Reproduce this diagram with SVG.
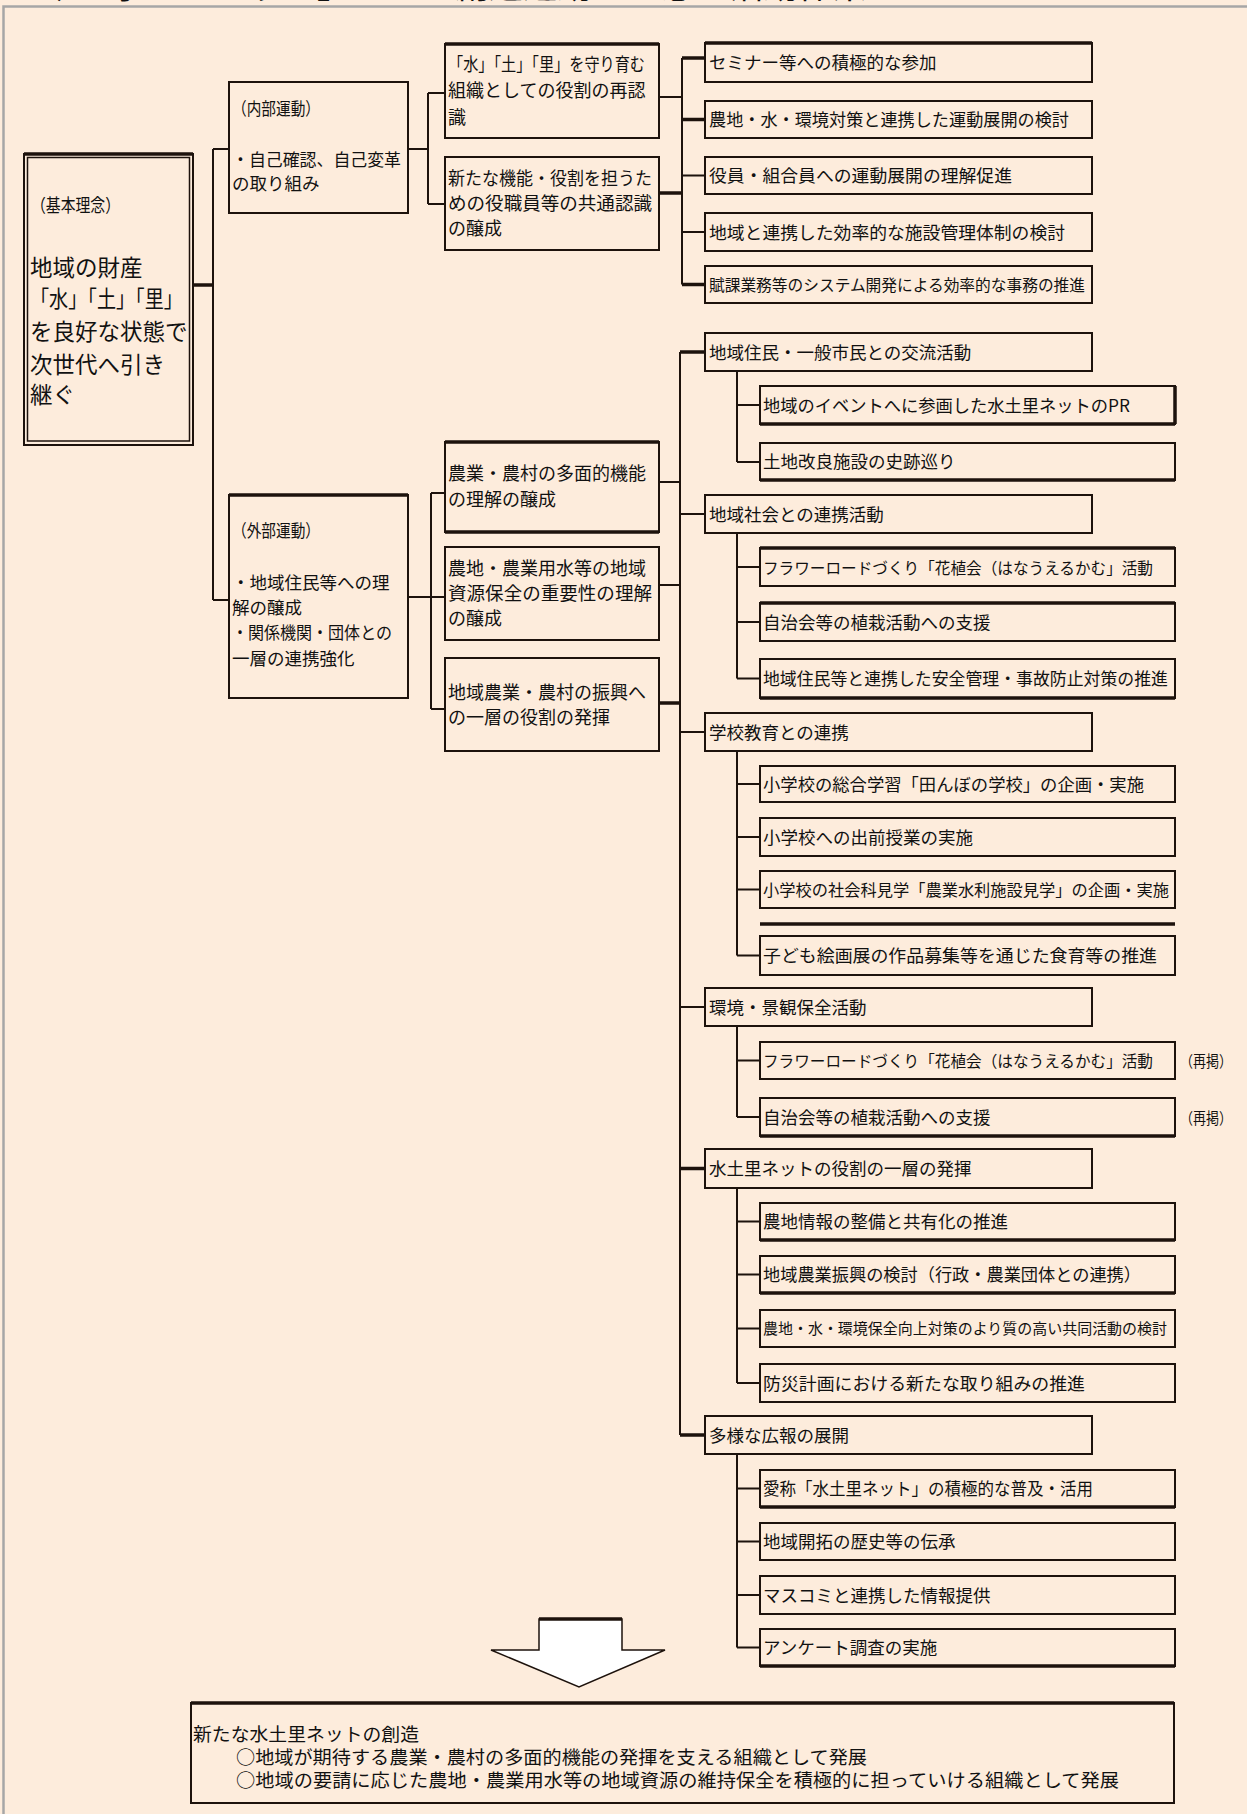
<svg xmlns="http://www.w3.org/2000/svg" width="1247" height="1814" viewBox="0 0 1247 1814">
<style>
.bx{fill:none;stroke:#1d120c;stroke-width:2}
.ib{fill:none;stroke:#1d120c;stroke-width:1.5}
.tk{stroke:#1d120c;stroke-width:3.5}
.ln{stroke:#1d120c;stroke-width:2;fill:none}
.t{font-family:"Noto Sans CJK JP","Noto Sans CJK SC",sans-serif;fill:#111}
.f17{font-size:17.5px}
.f18{font-size:18px}
.f22{font-size:22.5px}
.f19{font-size:18.5px}
</style>
<rect x="0" y="0" width="1247" height="1814" fill="#FDECDC"/>
<text class="t" x="42" y="-2" font-size="30" textLength="825" lengthAdjust="spacingAndGlyphs">◆「水土里ネット」ちから創造運動の理念と活動体系</text>
<path d="M3.5 1814 V6.5 H1247" fill="none" stroke="#a6a6a6" stroke-width="2.5"/>

<g id="connectors">
  <path class="tk" d="M193 285 H213"/>
  <path class="ln" d="M213 149 V600 M213 149 H229 M213 600 H229"/>
  <path class="ln" d="M408 149 H428 M428 93 V204 M428 93 H445 M428 204 H445"/>
  <path class="ln" d="M408 597 H431 M431 493 V709 M431 493 H445 M431 597 H445 M431 709 H445"/>
  <path class="ln" d="M659 97 H682"/>
  <path class="tk" d="M659 193 H682"/>
  <path class="ln" d="M682 58 V284.5"/>
  <path class="tk" d="M682 58 H705 M682 119.5 H705 M682 284.5 H705"/>
  <path class="ln" d="M682 175.5 H705 M682 232 H705"/>
  <path class="ln" d="M659 482 H680 M659 585 H680"/>
  <path class="tk" d="M659 703 H680"/>
  <path class="ln" d="M680 352 V1435"/>
  <path class="tk" d="M680 352 H705 M680 1168.5 H705 M680 1435 H705"/>
  <path class="ln" d="M680 514 H705 M680 732 H705 M680 1007 H705"/>
  <path class="ln" d="M737 371 V462 M737 405 H760 M737 462 H760"/>
  <path class="ln" d="M737 533 V678.5 M737 567 H760 M737 622 H760 M737 678.5 H760"/>
  <path class="ln" d="M737 751 V955.5 M737 784 H760 M737 837 H760 M737 889.5 H760 M737 955.5 H760"/>
  <path class="ln" d="M737 1026 V1117 M737 1060.5 H760 M737 1117 H760"/>
  <path class="ln" d="M737 1188 V1383 M737 1221.5 H760 M737 1274.5 H760 M737 1328.5 H760 M737 1383 H760"/>
  <path class="ln" d="M737 1454 V1647.5 M737 1488.5 H760 M737 1541.5 H760 M737 1595 H760 M737 1647.5 H760"/>
  <path class="tk" d="M760 924 H1175"/>
</g>

<g id="n_root">
  <rect class="bx" x="24" y="154" width="169" height="291"/>
  <path class="tk" d="M24 154 H193"/>
  <rect class="ib" x="27.5" y="157.5" width="162" height="283.5"/>
  <text class="t f18" x="31" y="212" textLength="89" lengthAdjust="spacingAndGlyphs">（基本理念）</text>
  <text class="t f22" x="30" y="276">地域の財産</text>
  <text class="t f22" x="30" y="307" textLength="153" lengthAdjust="spacingAndGlyphs">「水」「土」「里」</text>
  <text class="t f22" x="30" y="340">を良好な状態で</text>
  <text class="t f22" x="30" y="373">次世代へ引き</text>
  <text class="t f22" x="30" y="403">継ぐ</text>
</g>

<g id="n_naibu">
  <rect class="bx" x="229" y="82" width="179" height="131"/>
  <text class="t f17" x="232" y="115" textLength="88" lengthAdjust="spacingAndGlyphs">（内部運動）</text>
  <text class="t f17" x="232" y="166" textLength="169" lengthAdjust="spacingAndGlyphs">・自己確認、自己変革</text>
  <text class="t f17" x="232" y="190">の取り組み</text>
</g>

<g id="n_gaibu">
  <rect class="bx" x="229" y="495" width="179" height="203"/>
  <path class="tk" d="M229 495 H408"/>
  <text class="t f17" x="232" y="537" textLength="88" lengthAdjust="spacingAndGlyphs">（外部運動）</text>
  <text class="t f17" x="232" y="589">・地域住民等への理</text>
  <text class="t f17" x="232" y="614">解の醸成</text>
  <text class="t f17" x="232" y="639" textLength="160" lengthAdjust="spacingAndGlyphs">・関係機関・団体との</text>
  <text class="t f17" x="232" y="665">一層の連携強化</text>
</g>

<g id="n_mamori">
  <rect class="bx" x="445" y="44" width="214" height="94"/>
  <path class="tk" d="M445 44 H659"/>
  <text class="t f18" x="448" y="71" textLength="197" lengthAdjust="spacingAndGlyphs">「水」「土」「里」を守り育む</text>
  <text class="t f18" x="448" y="97">組織としての役割の再認</text>
  <text class="t f18" x="448" y="124">識</text>
</g>

<g id="n_aratana">
  <rect class="bx" x="445" y="157" width="214" height="93"/>
  <text class="t f18" x="448" y="185" textLength="204" lengthAdjust="spacingAndGlyphs">新たな機能・役割を担うた</text>
  <text class="t f18" x="448" y="210" textLength="204" lengthAdjust="spacingAndGlyphs">めの役職員等の共通認識</text>
  <text class="t f18" x="448" y="235">の醸成</text>
</g>

<g id="n_tamenteki">
  <rect class="bx" x="445" y="442" width="214" height="90"/>
  <path class="tk" d="M445 442 H659 M445 532 H659"/>
  <text class="t f18" x="448" y="480">農業・農村の多面的機能</text>
  <text class="t f18" x="448" y="506">の理解の醸成</text>
</g>

<g id="n_shigen">
  <rect class="bx" x="445" y="547" width="214" height="93"/>
  <text class="t f18" x="448" y="575">農地・農業用水等の地域</text>
  <text class="t f18" x="448" y="600" textLength="204" lengthAdjust="spacingAndGlyphs">資源保全の重要性の理解</text>
  <text class="t f18" x="448" y="625">の醸成</text>
</g>

<g id="n_shinko">
  <rect class="bx" x="445" y="658" width="214" height="93"/>
  <text class="t f18" x="448" y="699">地域農業・農村の振興へ</text>
  <text class="t f18" x="448" y="724">の一層の役割の発揮</text>
</g>

<g id="n_seminar">
  <rect class="bx" x="705" y="43" width="387" height="39"/>
  <path class="tk" d="M705 43 H1092"/>
  <text class="t f17" x="709" y="69">セミナー等への積極的な参加</text>
</g>
<g id="n_taisaku">
  <rect class="bx" x="705" y="101" width="387" height="37"/>
  <text class="t f17" x="709" y="126" textLength="360" lengthAdjust="spacingAndGlyphs">農地・水・環境対策と連携した運動展開の検討</text>
</g>
<g id="n_rikai">
  <rect class="bx" x="705" y="157" width="387" height="37"/>
  <text class="t f17" x="709" y="182" textLength="303" lengthAdjust="spacingAndGlyphs">役員・組合員への運動展開の理解促進</text>
</g>
<g id="n_kanri">
  <rect class="bx" x="705" y="213" width="387" height="38"/>
  <text class="t f17" x="709" y="238.5" textLength="356" lengthAdjust="spacingAndGlyphs">地域と連携した効率的な施設管理体制の検討</text>
</g>
<g id="n_fuka">
  <rect class="bx" x="705" y="266" width="387" height="37"/>
  <text class="t" font-size="15.5" x="709" y="290.5" textLength="376" lengthAdjust="spacingAndGlyphs">賦課業務等のシステム開発による効率的な事務の推進</text>
</g>

<g id="n_koryu">
  <rect class="bx" x="705" y="333" width="387" height="38"/>
  <text class="t f17" x="709" y="358.5">地域住民・一般市民との交流活動</text>
</g>
<g id="n_event">
  <rect class="bx" x="760" y="386" width="415" height="38"/>
  <path class="tk" d="M760 424 H1175 M1175 386 V424"/>
  <text class="t f17" x="763" y="411.5" textLength="367" lengthAdjust="spacingAndGlyphs">地域のイベントへに参画した水土里ネットのPR</text>
</g>
<g id="n_shiseki">
  <rect class="bx" x="760" y="443" width="415" height="37"/>
  <path class="tk" d="M760 480 H1175"/>
  <text class="t f17" x="763" y="468">土地改良施設の史跡巡り</text>
</g>

<g id="n_shakai">
  <rect class="bx" x="705" y="495" width="387" height="38"/>
  <text class="t f17" x="709" y="520.5">地域社会との連携活動</text>
</g>
<g id="n_flower">
  <rect class="bx" x="760" y="548" width="415" height="38"/>
  <path class="tk" d="M760 548 H1175"/>
  <text class="t" font-size="16" x="763" y="573.5" textLength="390" lengthAdjust="spacingAndGlyphs">フラワーロードづくり「花植会（はなうえるかむ」活動</text>
</g>
<g id="n_jichi">
  <rect class="bx" x="760" y="603" width="415" height="38"/>
  <path class="tk" d="M760 603 H1175"/>
  <text class="t f17" x="763" y="628.5">自治会等の植栽活動への支援</text>
</g>
<g id="n_anzen">
  <rect class="bx" x="760" y="659" width="415" height="39"/>
  <path class="tk" d="M760 698 H1175"/>
  <text class="t" font-size="16.8" x="763" y="685" textLength="405" lengthAdjust="spacingAndGlyphs">地域住民等と連携した安全管理・事故防止対策の推進</text>
</g>

<g id="n_gakko">
  <rect class="bx" x="705" y="713" width="387" height="38"/>
  <text class="t f17" x="709" y="738.5">学校教育との連携</text>
</g>
<g id="n_tanbo">
  <rect class="bx" x="760" y="766" width="415" height="36"/>
  <text class="t f17" x="763" y="790.5" textLength="381" lengthAdjust="spacingAndGlyphs">小学校の総合学習「田んぼの学校」の企画・実施</text>
</g>
<g id="n_demae">
  <rect class="bx" x="760" y="818" width="415" height="38"/>
  <text class="t f17" x="763" y="843.5">小学校への出前授業の実施</text>
</g>
<g id="n_kengaku">
  <rect class="bx" x="760" y="871" width="415" height="37"/>
  <text class="t" font-size="16.2" x="763" y="896" textLength="406" lengthAdjust="spacingAndGlyphs">小学校の社会科見学「農業水利施設見学」の企画・実施</text>
</g>
<g id="n_kaiga">
  <rect class="bx" x="760" y="936" width="415" height="39"/>
  <text class="t f17" x="763" y="962" textLength="394" lengthAdjust="spacingAndGlyphs">子ども絵画展の作品募集等を通じた食育等の推進</text>
</g>

<g id="n_kankyo">
  <rect class="bx" x="705" y="988" width="387" height="38"/>
  <text class="t f17" x="709" y="1013.5">環境・景観保全活動</text>
</g>
<g id="n_flower2">
  <rect class="bx" x="760" y="1042" width="415" height="37"/>
  <text class="t" font-size="16" x="763" y="1067" textLength="390" lengthAdjust="spacingAndGlyphs">フラワーロードづくり「花植会（はなうえるかむ」活動</text>
  <text class="t" font-size="15.5" x="1180" y="1067" textLength="52" lengthAdjust="spacingAndGlyphs">（再掲）</text>
</g>
<g id="n_jichi2">
  <rect class="bx" x="760" y="1098" width="415" height="38"/>
  <path class="tk" d="M760 1136 H1175"/>
  <text class="t f17" x="763" y="1123.5">自治会等の植栽活動への支援</text>
  <text class="t" font-size="15.5" x="1180" y="1123.5" textLength="52" lengthAdjust="spacingAndGlyphs">（再掲）</text>
</g>

<g id="n_mizu">
  <rect class="bx" x="705" y="1149" width="387" height="39"/>
  <text class="t f17" x="709" y="1175">水土里ネットの役割の一層の発揮</text>
</g>
<g id="n_joho">
  <rect class="bx" x="760" y="1203" width="415" height="37"/>
  <path class="tk" d="M760 1240 H1175"/>
  <text class="t f17" x="763" y="1228">農地情報の整備と共有化の推進</text>
</g>
<g id="n_shinko2">
  <rect class="bx" x="760" y="1256" width="415" height="37"/>
  <path class="tk" d="M760 1293 H1175"/>
  <text class="t f17" x="763" y="1281" textLength="378" lengthAdjust="spacingAndGlyphs">地域農業振興の検討（行政・農業団体との連携）</text>
</g>
<g id="n_kyodo">
  <rect class="bx" x="760" y="1310" width="415" height="37"/>
  <text class="t" font-size="15" x="763" y="1334" textLength="404" lengthAdjust="spacingAndGlyphs">農地・水・環境保全向上対策のより質の高い共同活動の検討</text>
</g>
<g id="n_bosai">
  <rect class="bx" x="760" y="1364" width="415" height="38"/>
  <text class="t f17" x="763" y="1389.5" textLength="322" lengthAdjust="spacingAndGlyphs">防災計画における新たな取り組みの推進</text>
</g>

<g id="n_koho">
  <rect class="bx" x="705" y="1416" width="387" height="38"/>
  <text class="t f17" x="709" y="1441.5">多様な広報の展開</text>
</g>
<g id="n_aisho">
  <rect class="bx" x="760" y="1470" width="415" height="37"/>
  <path class="tk" d="M760 1507 H1175"/>
  <text class="t f17" x="763" y="1495" textLength="330" lengthAdjust="spacingAndGlyphs">愛称「水土里ネット」の積極的な普及・活用</text>
</g>
<g id="n_kaitaku">
  <rect class="bx" x="760" y="1523" width="415" height="37"/>
  <text class="t f17" x="763" y="1548">地域開拓の歴史等の伝承</text>
</g>
<g id="n_masukomi">
  <rect class="bx" x="760" y="1576" width="415" height="38"/>
  <text class="t f17" x="763" y="1601.5">マスコミと連携した情報提供</text>
</g>
<g id="n_ankeito">
  <rect class="bx" x="760" y="1629" width="415" height="37"/>
  <path class="tk" d="M760 1666 H1175"/>
  <text class="t f17" x="763" y="1654">アンケート調査の実施</text>
</g>

<g id="n_arrow">
  <polygon points="539,1619 622,1619 622,1650 665,1650 579,1687 491,1650 539,1650" fill="#ffffff" stroke="#1d120c" stroke-width="1.5"/>
  <path class="tk" d="M539 1619 H622"/>
</g>

<g id="n_result">
  <rect class="bx" x="191" y="1703" width="983" height="100"/>
  <path class="tk" d="M191 1703 H1174"/>
  <text class="t f19" x="193" y="1741" textLength="226" lengthAdjust="spacingAndGlyphs">新たな水土里ネットの創造</text>
  <text class="t f19" x="236" y="1764" textLength="631" lengthAdjust="spacingAndGlyphs">○地域が期待する農業・農村の多面的機能の発揮を支える組織として発展</text>
  <text class="t f19" x="236" y="1787" textLength="883" lengthAdjust="spacingAndGlyphs">○地域の要請に応じた農地・農業用水等の地域資源の維持保全を積極的に担っていける組織として発展</text>
</g>
</svg>
